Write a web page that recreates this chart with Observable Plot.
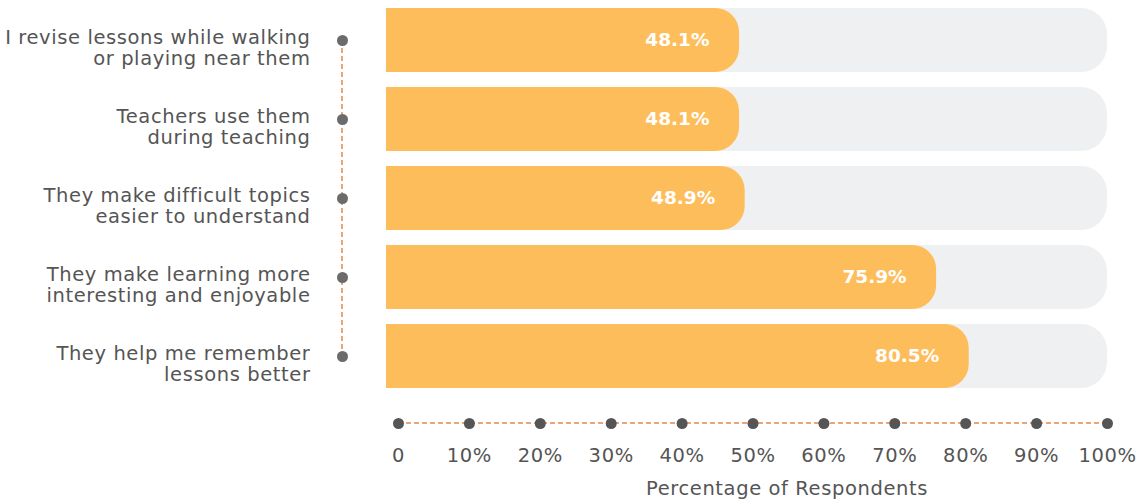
<!DOCTYPE html>
<html>
<head>
<meta charset="utf-8">
<script src="https://cdn.jsdelivr.net/npm/d3@7"></script>
<script src="https://cdn.jsdelivr.net/npm/@observablehq/plot@0.6"></script>
<style>
  html, body { margin: 0; padding: 0; background: #fff; }
  #chart { width: 1148px; height: 501px; }
  #chart svg text { letter-spacing: 0.6px; }
  #chart svg g[fill="#fff"] text { letter-spacing: 0px; }
</style>
</head>
<body>
<div id="chart"></div>
<script>
const categories = [
  "I revise lessons while walking\nor playing near them",
  "Teachers use them\nduring teaching",
  "They make difficult topics\neasier to understand",
  "They make learning more\ninteresting and enjoyable",
  "They help me remember\nlessons better"
];
const values = [48.1, 48.1, 48.9, 75.9, 80.5];
const tickValues = [0, 10, 20, 30, 40, 50, 60, 70, 80, 90, 100];
const tickLabels = ["0", "10%", "20%", "30%", "40%", "50%", "60%", "70%", "80%", "90%", "100%"];
const axisTitle = "Percentage of Respondents";
const maxValue = 100;

const rows = categories.map((c, i) => ({category: c, value: values[i]}));

const FONT = "'DejaVu Sans', sans-serif";
const ORANGE = "#FEBD5B";
const GREY = "#EFF0F2";
const DASH = "#E5864A";

// dashed horizontal axis line drawn through the x scale
function axisLine(index, {x}, values, dims) {
  const y0 = dims.height - dims.marginBottom + 34;
  const g = d3.create("svg:g");
  g.append("line")
    .attr("x1", x(tickValues[0])).attr("x2", x(tickValues[tickValues.length - 1]))
    .attr("y1", y0).attr("y2", y0)
    .attr("stroke", DASH).attr("stroke-width", 1.5).attr("stroke-dasharray", "5,3");
  return g.node();
}
// dashed vertical line linking the category dots through the y scale
function catLine(index, {y}, values, dims) {
  const xx = dims.marginLeft - 56;
  const bw = y.bandwidth ? y.bandwidth() / 2 : 0;
  const g = d3.create("svg:g");
  g.append("line")
    .attr("x1", xx).attr("x2", xx)
    .attr("y1", y(categories[0]) + bw).attr("y2", y(categories[categories.length - 1]) + bw)
    .attr("stroke", DASH).attr("stroke-width", 1.5).attr("stroke-dasharray", "5,3");
  return g.node();
}

const chart = Plot.plot({
  width: 1148,
  height: 501,
  marginLeft: 398,
  marginRight: 41,
  marginTop: 7,
  marginBottom: 112,
  style: {fontFamily: FONT, fontSize: "19.5px", color: "#555", background: "#fff"},
  x: {domain: [0, maxValue], ticks: tickValues, tickFormat: (d) => tickLabels[tickValues.indexOf(d)], tickSize: 0, tickPadding: 59, label: null},
  y: {domain: categories, paddingInner: 0.19, paddingOuter: 0, axis: null},
  marks: [
    Plot.barX(rows, {y: "category", x1: 0, x2: maxValue, fill: GREY, insetLeft: -12, rx2: 26}),
    Plot.barX(rows, {y: "category", x1: 0, x2: "value", fill: ORANGE, insetLeft: -12, rx2: 24}),
    Plot.text(rows, {y: "category", x: "value", text: d => d.value.toFixed(1) + "%", textAnchor: "end", dx: -30, fill: "#fff", fontWeight: "bold", fontSize: 18.5}),
    catLine,
    Plot.dot(categories, {y: d => d, frameAnchor: "left", dx: -56, r: 5.5, fill: "#6B6B6B"}),
    Plot.text(categories, {y: d => d, text: d => d, frameAnchor: "left", dx: -88, dy: 7, textAnchor: "end", lineAnchor: "middle", lineHeight: 1.1, fill: "#555", fontSize: 19.5}),
    axisLine,
    Plot.dot(tickValues, {x: d => d, frameAnchor: "bottom", dy: 34, r: 5.5, fill: "#555"}),
    Plot.text([axisTitle], {text: d => d, frameAnchor: "bottom", dx: 34, dy: 105, fill: "#555", fontSize: 19.5})
  ]
});
document.getElementById("chart").appendChild(chart);
</script>
</body>
</html>
